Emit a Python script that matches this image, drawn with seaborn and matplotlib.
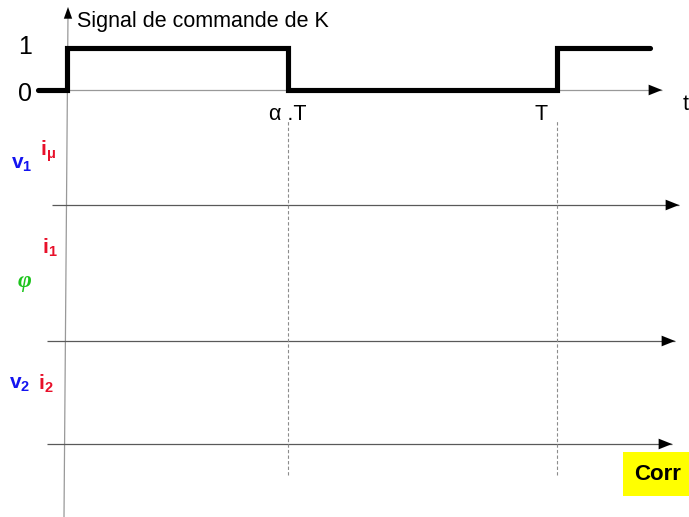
import matplotlib
matplotlib.use("Agg")
import matplotlib.pyplot as plt
import seaborn as sns

# command signal of K, time in units of T, level 0/1
alpha = 0.45
signal_t = [-0.06, 0.0, 0.0, alpha, alpha, 1.0, 1.0, 1.19]
signal_level = [0, 0, 1, 1, 0, 0, 1, 1]
time_ticks = [alpha, 1.0]
time_labels = ["α .T", "T"]
level_labels = ["0", "1"]

# pixel -> data helpers (origin of the time axis at x=67, y=90)
X0, T_PX = 67, 490
Y0, L_PX = 90, 42


def px(x, y):
    return (x - X0) / T_PX, (Y0 - y) / L_PX


def arrow_line(ax, x1, y, x2, color="0.35", lw=0.9):
    a, b = px(x1, y)
    c, d = px(x2, y)
    ax.plot([a, c], [b, d], color=color, lw=lw, solid_capstyle="butt")
    ax.annotate("", xy=(c, d), xytext=px(x2 - 12, y),
                arrowprops=dict(arrowstyle="-|>,head_length=0.8,head_width=0.32",
                                color="black", lw=0.01, shrinkA=0, shrinkB=0))


def main() -> None:
    sns.set_theme(style="white")
    plt.rcParams["font.family"] = ["Liberation Sans", "DejaVu Sans"]
    plt.rcParams["text.color"] = "black"
    plt.rcParams["mathtext.fontset"] = "custom"
    plt.rcParams["mathtext.bf"] = "Liberation Sans:bold"
    plt.rcParams["mathtext.rm"] = "Liberation Sans"

    fig = plt.figure(figsize=(6.89, 5.17), dpi=100)
    ax = fig.add_axes([0, 0, 1, 1])
    ax.set_xlim(px(0, 0)[0], px(689, 0)[0])
    ax.set_ylim(px(0, 517)[1], px(0, 0)[1])
    ax.axis("off")

    # vertical axis
    a, b = px(64, 517)
    c, d = px(68, 14)
    ax.plot([a, c], [b, d], color="0.6", lw=0.9)
    ax.annotate("", xy=px(68, 7), xytext=px(68, 17),
                arrowprops=dict(arrowstyle="-|>,head_length=0.7,head_width=0.25",
                                color="black", lw=0.01, shrinkA=0, shrinkB=0))

    # time axis of the command signal and axes of the lower plots
    arrow_line(ax, 40, 90, 662, color="0.6")
    arrow_line(ax, 52, 205, 679)
    arrow_line(ax, 47, 341, 675)
    arrow_line(ax, 47, 444, 672)

    # dashed markers at alpha.T and T
    y_lo = px(0, 475)[1]
    y_hi = px(0, 120)[1]
    ax.vlines(time_ticks, y_lo, y_hi, colors="0.55", linestyles=(0, (3, 2)), lw=0.8)

    sns.lineplot(x=signal_t, y=signal_level, sort=False, estimator=None,
                 color="black", lw=3.7, ax=ax)
    ax.lines[-1].set_solid_joinstyle("miter")

    # labels
    ax.text(*px(77, 21), "Signal de commande de K", fontsize=15.5, va="center", ha="left")
    for lvl_px, lab in zip([94, 47], level_labels):
        ax.text(*px(25, lvl_px), lab, fontsize=18, ha="center", va="center")
    ax.text(px(269, 0)[0], px(0, 114)[1], time_labels[0], fontsize=15.5, ha="left", va="center")
    ax.text(1.0 - 16 / T_PX, px(0, 114)[1], time_labels[1], fontsize=15.5, ha="center", va="center")
    ax.text(*px(683, 104), "t", fontsize=15.5, ha="left", va="center")

    blue, red, green = "#1414f0", "#e8102a", "#1cc41c"
    ax.text(*px(11, 165), r"$\mathbf{v}_\mathbf{1}$", color=blue, fontsize=15, va="center")
    ax.text(*px(40, 151), r"$\mathbf{i}_\mathbf{\mu}$", color=red, fontsize=15, va="center")
    ax.text(*px(42, 248), r"$\mathbf{i}_\mathbf{1}$", color=red, fontsize=15, va="center")
    ax.text(*px(18, 281), "φ", color=green, fontsize=17, va="center",
            family="Liberation Serif", style="italic", weight="bold")
    ax.text(*px(9, 384), r"$\mathbf{v}_\mathbf{2}$", color=blue, fontsize=15, va="center")
    ax.text(*px(38, 384), r"$\mathbf{i}_\mathbf{2}$", color=red, fontsize=15, va="center")

    # yellow box
    ax.text(*px(634, 474), "Corr", fontsize=16, weight="bold", va="center", ha="left",
            bbox=dict(boxstyle="square,pad=0.5", fc="#ffff00", ec="none"))

    fig.savefig("out.png", dpi=100)
    plt.close(fig)


if __name__ == "__main__":
    main()
